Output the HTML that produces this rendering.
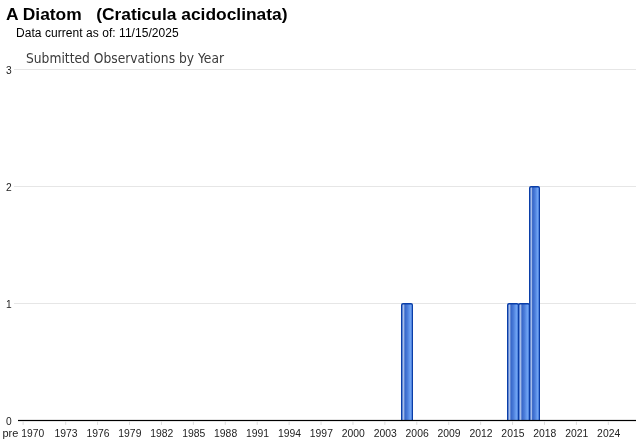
<!DOCTYPE html>
<html><head><meta charset="utf-8"><title>A Diatom (Craticula acidoclinata)</title>
<style>
html,body{margin:0;padding:0;background:#fff;}
body{width:640px;height:442px;overflow:hidden;position:relative;font-family:"Liberation Sans",Arial,sans-serif;}
#t{position:absolute;left:6px;top:5px;font-size:17.4px;font-weight:bold;color:#000;white-space:pre;line-height:18px;}
#d{position:absolute;left:16px;top:25.8px;font-size:12px;letter-spacing:0.05px;color:#000;white-space:pre;line-height:14px;}
svg{position:absolute;left:0;top:0;}
</style></head><body>
<div id="t">A Diatom   (Craticula acidoclinata)</div>
<div id="d">Data current as of: 11/15/2025</div>
<svg width="640" height="442" viewBox="0 0 640 442">
<defs>
<linearGradient id="g" x1="0" y1="0" x2="1" y2="0">
<stop offset="0" stop-color="#7a9ce0"/><stop offset="0.07" stop-color="#a9c0ea"/><stop offset="0.17" stop-color="#a3bbe9"/><stop offset="0.27" stop-color="#3565c7"/><stop offset="0.55" stop-color="#4c7edb"/><stop offset="0.85" stop-color="#6fa3f3"/><stop offset="1" stop-color="#6296ec"/>
</linearGradient>
</defs>
<text x="26" y="63" font-family="'DejaVu Sans',Verdana,sans-serif" font-size="14" fill="#3a3a3a" textLength="198" lengthAdjust="spacingAndGlyphs">Submitted Observations by Year</text>

<rect x="14" y="303.00" width="622" height="1" fill="#e6e6e6"/>
<rect x="14" y="186.00" width="622" height="1" fill="#e6e6e6"/>
<rect x="14" y="69.00" width="622" height="1" fill="#e6e6e6"/>
<text x="11.6" y="424.50" text-anchor="end" textLength="5.7" lengthAdjust="spacingAndGlyphs" font-family="'Liberation Sans',Arial,sans-serif" font-size="11" fill="#222">0</text>
<text x="11.6" y="307.50" text-anchor="end" textLength="5.7" lengthAdjust="spacingAndGlyphs" font-family="'Liberation Sans',Arial,sans-serif" font-size="11" fill="#222">1</text>
<text x="11.6" y="190.50" text-anchor="end" textLength="5.7" lengthAdjust="spacingAndGlyphs" font-family="'Liberation Sans',Arial,sans-serif" font-size="11" fill="#222">2</text>
<text x="11.6" y="73.50" text-anchor="end" textLength="5.7" lengthAdjust="spacingAndGlyphs" font-family="'Liberation Sans',Arial,sans-serif" font-size="11" fill="#222">3</text>
<path d="M401 420.5V305.00Q401 303.00 403 303.00H411Q413 303.00 413 305.00V420.5Z" fill="#0a3ea8"/>
<path d="M402.30 420.5V305.40Q402.30 304.60 403.10 304.60H411.00Q411.80 304.60 411.80 305.40V420.5Z" fill="url(#g)"/>
<path d="M507 420.5V305.00Q507 303.00 509 303.00H517Q519 303.00 519 305.00V420.5Z" fill="#0a3ea8"/>
<path d="M508.30 420.5V305.40Q508.30 304.60 509.10 304.60H517.00Q517.80 304.60 517.80 305.40V420.5Z" fill="url(#g)"/>
<path d="M518 420.5V305.00Q518 303.00 520 303.00H528Q530 303.00 530 305.00V420.5Z" fill="#0a3ea8"/>
<path d="M519.30 420.5V305.40Q519.30 304.60 520.10 304.60H528.00Q528.80 304.60 528.80 305.40V420.5Z" fill="url(#g)"/>
<path d="M529 420.5V188.00Q529 186.00 531 186.00H538Q540 186.00 540 188.00V420.5Z" fill="#0a3ea8"/>
<path d="M530.30 420.5V188.40Q530.30 187.60 531.10 187.60H538.00Q538.80 187.60 538.80 188.40V420.5Z" fill="url(#g)"/>
<rect x="18" y="419.9" width="618" height="1.2" fill="#000"/>
<rect x="22.62" y="421.1" width="1" height="3.8" fill="#dcdcdc"/>
<text y="437" font-family="'Liberation Sans',Arial,sans-serif" font-size="11" fill="#222" style="white-space:pre"><tspan x="2.4">pre </tspan><tspan x="21.3" textLength="22.9" lengthAdjust="spacingAndGlyphs">1970</tspan></text>
<rect x="65.18" y="421.1" width="1" height="3.8" fill="#dcdcdc"/>
<text x="66.03" y="437" text-anchor="middle" textLength="23.1" lengthAdjust="spacingAndGlyphs" font-family="'Liberation Sans',Arial,sans-serif" font-size="11" fill="#222">1973</text>
<rect x="97.10" y="421.1" width="1" height="3.8" fill="#dcdcdc"/>
<text x="97.95" y="437" text-anchor="middle" textLength="23.1" lengthAdjust="spacingAndGlyphs" font-family="'Liberation Sans',Arial,sans-serif" font-size="11" fill="#222">1976</text>
<rect x="129.02" y="421.1" width="1" height="3.8" fill="#dcdcdc"/>
<text x="129.87" y="437" text-anchor="middle" textLength="23.1" lengthAdjust="spacingAndGlyphs" font-family="'Liberation Sans',Arial,sans-serif" font-size="11" fill="#222">1979</text>
<rect x="160.94" y="421.1" width="1" height="3.8" fill="#dcdcdc"/>
<text x="161.79" y="437" text-anchor="middle" textLength="23.1" lengthAdjust="spacingAndGlyphs" font-family="'Liberation Sans',Arial,sans-serif" font-size="11" fill="#222">1982</text>
<rect x="192.86" y="421.1" width="1" height="3.8" fill="#dcdcdc"/>
<text x="193.71" y="437" text-anchor="middle" textLength="23.1" lengthAdjust="spacingAndGlyphs" font-family="'Liberation Sans',Arial,sans-serif" font-size="11" fill="#222">1985</text>
<rect x="224.78" y="421.1" width="1" height="3.8" fill="#dcdcdc"/>
<text x="225.63" y="437" text-anchor="middle" textLength="23.1" lengthAdjust="spacingAndGlyphs" font-family="'Liberation Sans',Arial,sans-serif" font-size="11" fill="#222">1988</text>
<rect x="256.70" y="421.1" width="1" height="3.8" fill="#dcdcdc"/>
<text x="257.55" y="437" text-anchor="middle" textLength="23.1" lengthAdjust="spacingAndGlyphs" font-family="'Liberation Sans',Arial,sans-serif" font-size="11" fill="#222">1991</text>
<rect x="288.62" y="421.1" width="1" height="3.8" fill="#dcdcdc"/>
<text x="289.47" y="437" text-anchor="middle" textLength="23.1" lengthAdjust="spacingAndGlyphs" font-family="'Liberation Sans',Arial,sans-serif" font-size="11" fill="#222">1994</text>
<rect x="320.54" y="421.1" width="1" height="3.8" fill="#dcdcdc"/>
<text x="321.39" y="437" text-anchor="middle" textLength="23.1" lengthAdjust="spacingAndGlyphs" font-family="'Liberation Sans',Arial,sans-serif" font-size="11" fill="#222">1997</text>
<rect x="352.46" y="421.1" width="1" height="3.8" fill="#dcdcdc"/>
<text x="353.31" y="437" text-anchor="middle" textLength="23.1" lengthAdjust="spacingAndGlyphs" font-family="'Liberation Sans',Arial,sans-serif" font-size="11" fill="#222">2000</text>
<rect x="384.38" y="421.1" width="1" height="3.8" fill="#dcdcdc"/>
<text x="385.23" y="437" text-anchor="middle" textLength="23.1" lengthAdjust="spacingAndGlyphs" font-family="'Liberation Sans',Arial,sans-serif" font-size="11" fill="#222">2003</text>
<rect x="416.30" y="421.1" width="1" height="3.8" fill="#dcdcdc"/>
<text x="417.15" y="437" text-anchor="middle" textLength="23.1" lengthAdjust="spacingAndGlyphs" font-family="'Liberation Sans',Arial,sans-serif" font-size="11" fill="#222">2006</text>
<rect x="448.22" y="421.1" width="1" height="3.8" fill="#dcdcdc"/>
<text x="449.07" y="437" text-anchor="middle" textLength="23.1" lengthAdjust="spacingAndGlyphs" font-family="'Liberation Sans',Arial,sans-serif" font-size="11" fill="#222">2009</text>
<rect x="480.14" y="421.1" width="1" height="3.8" fill="#dcdcdc"/>
<text x="480.99" y="437" text-anchor="middle" textLength="23.1" lengthAdjust="spacingAndGlyphs" font-family="'Liberation Sans',Arial,sans-serif" font-size="11" fill="#222">2012</text>
<rect x="512.06" y="421.1" width="1" height="3.8" fill="#dcdcdc"/>
<text x="512.91" y="437" text-anchor="middle" textLength="23.1" lengthAdjust="spacingAndGlyphs" font-family="'Liberation Sans',Arial,sans-serif" font-size="11" fill="#222">2015</text>
<rect x="543.98" y="421.1" width="1" height="3.8" fill="#dcdcdc"/>
<text x="544.83" y="437" text-anchor="middle" textLength="23.1" lengthAdjust="spacingAndGlyphs" font-family="'Liberation Sans',Arial,sans-serif" font-size="11" fill="#222">2018</text>
<rect x="575.90" y="421.1" width="1" height="3.8" fill="#dcdcdc"/>
<text x="576.75" y="437" text-anchor="middle" textLength="23.1" lengthAdjust="spacingAndGlyphs" font-family="'Liberation Sans',Arial,sans-serif" font-size="11" fill="#222">2021</text>
<rect x="607.82" y="421.1" width="1" height="3.8" fill="#dcdcdc"/>
<text x="608.67" y="437" text-anchor="middle" textLength="23.1" lengthAdjust="spacingAndGlyphs" font-family="'Liberation Sans',Arial,sans-serif" font-size="11" fill="#222">2024</text>
</svg></body></html>
